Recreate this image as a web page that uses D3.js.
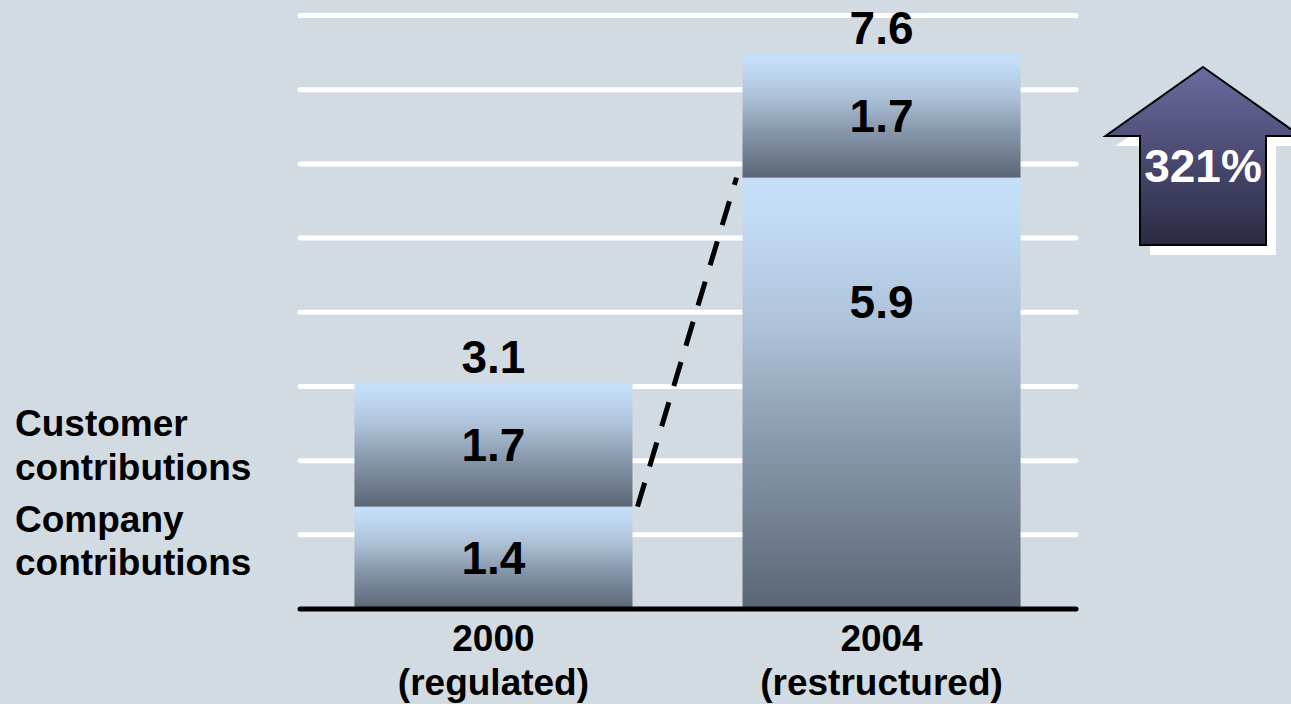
<!DOCTYPE html>
<html>
<head>
<meta charset="utf-8">
<script src="https://cdn.jsdelivr.net/npm/d3@7"></script>
<style>
  html, body { margin: 0; padding: 0; background: #d3dbe2; overflow: hidden; }
  svg { display: block; }
  text { font-family: 'Liberation Sans', Arial, Helvetica, sans-serif; font-weight: bold; }
</style>
</head>
<body>
<svg id="chart" width="1291" height="704"></svg>
<script>
// ---- data ----
const categories = ["2000", "2004"];
const categorySubLabels = ["(regulated)", "(restructured)"];
const companyValues = [1.4, 5.9];
const customerValues = [1.7, 1.7];
const totalValues = [3.1, 7.6];
const gridValues = [1, 2, 3, 4, 5, 6, 7, 8];
const seriesKeys = ["company", "customer"];
const legendLabels = [["Customer", "contributions"], ["Company", "contributions"]];

// ---- setup ----
const W = 1291, H = 704;
const svg = d3.select("#chart");
svg.append("rect").attr("width", W).attr("height", H).attr("fill", "#d3dbe2");

const rows = categories.map((c, i) => ({
  category: c, sub: categorySubLabels[i],
  company: companyValues[i], customer: customerValues[i], total: totalValues[i]
}));
const stacked = d3.stack().keys(seriesKeys)(rows);

const x = d3.scaleBand().domain(categories).range([297, 1078])
  .paddingInner(0.2835).paddingOuter(0.148);
const y = d3.scaleLinear().domain([0, 7.6]).range([609, 53.3]);
const yGrid = d3.scaleLinear().domain([0, 8]).range([609, 15.5]);

const defs = svg.append("defs");
const bg = defs.append("linearGradient").attr("id", "barGrad")
  .attr("x1", 0).attr("y1", 0).attr("x2", 0).attr("y2", 1);
[[0, "#c6e0fa"], [0.08, "#c3dcf6"], [0.35, "#adc1d8"], [0.62, "#8898ac"], [1, "#5a6675"]]
  .forEach(([o, c]) => bg.append("stop").attr("offset", o).attr("stop-color", c));
const ag = defs.append("linearGradient").attr("id", "arrowGrad")
  .attr("x1", 0).attr("y1", 0).attr("x2", 0).attr("y2", 1);
[[0, "#6b6ba0"], [1, "#2a2a44"]]
  .forEach(([o, c]) => ag.append("stop").attr("offset", o).attr("stop-color", c));

// ---- gridlines ----
svg.append("g").selectAll("line").data(gridValues).join("line")
  .attr("x1", 300).attr("x2", 1076)
  .attr("y1", d => yGrid(d)).attr("y2", d => yGrid(d))
  .attr("stroke", "#ffffff").attr("stroke-width", 5).attr("stroke-linecap", "round");

// ---- bars ----
const segs = [];
stacked.forEach(s => s.forEach(d => segs.push({ key: s.key, y0: d[0], y1: d[1], data: d.data })));
svg.append("g").selectAll("rect").data(segs).join("rect")
  .attr("x", d => x(d.data.category))
  .attr("width", x.bandwidth())
  .attr("y", d => y(d.y1))
  .attr("height", d => y(d.y0) - y(d.y1))
  .attr("fill", "url(#barGrad)");

// ---- baseline ----
svg.append("line").attr("x1", 300).attr("x2", 1076)
  .attr("y1", y(0)).attr("y2", y(0))
  .attr("stroke", "#000").attr("stroke-width", 5).attr("stroke-linecap", "round");

// ---- segment value labels ----
const valFont = 46;
svg.append("g").selectAll("text").data(segs).join("text")
  .attr("x", d => x(d.data.category) + x.bandwidth() / 2)
  .attr("y", d => {
    const top = y(d.y1), mid = (y(d.y0) + y(d.y1)) / 2;
    return Math.min(mid, top + 124) + valFont * 0.36;
  })
  .attr("text-anchor", "middle").attr("font-size", valFont).attr("fill", "#000")
  .text(d => d3.format(".1f")(d.data[d.key]));

// ---- totals ----
svg.append("g").selectAll("text").data(rows).join("text")
  .attr("x", d => x(d.category) + x.bandwidth() / 2)
  .attr("y", d => y(d.total) - 9)
  .attr("text-anchor", "middle").attr("font-size", valFont).attr("fill", "#000")
  .text(d => d3.format(".1f")(d.total));

// ---- category labels ----
const cat = svg.append("g").selectAll("text").data(rows).join("text")
  .attr("text-anchor", "middle").attr("font-size", 37).attr("fill", "#000");
cat.append("tspan").attr("x", d => x(d.category) + x.bandwidth() / 2).attr("y", y(0) + 42).text(d => d.category);
cat.append("tspan").attr("x", d => x(d.category) + x.bandwidth() / 2).attr("y", y(0) + 86).text(d => d.sub);

// ---- legend labels (left) ----
const leg = svg.append("g").selectAll("text").data(legendLabels).join("text")
  .attr("font-size", 37).attr("fill", "#000");
leg.append("tspan").attr("x", 15).attr("y", (d, i) => 436 + i * 96).text(d => d[0]);
leg.append("tspan").attr("x", 15).attr("y", (d, i) => 480 + i * 95).text(d => d[1]);

// ---- dashed connector (company segments) ----
const b0 = categories[0], b1 = categories[1];
svg.append("line")
  .attr("x1", x(b0) + x.bandwidth() + 5).attr("y1", y(companyValues[0]))
  .attr("x2", x(b1) - 6).attr("y2", y(companyValues[1]))
  .attr("stroke", "#000").attr("stroke-width", 5)
  .attr("stroke-dasharray", "25,17");

// ---- growth arrow ----
const growth = Math.round((companyValues[1] / companyValues[0] - 1) * 100);
const arrowPath = "M0,0 L97.5,69 L63,69 L63,178 L-63,178 L-63,69 L-97.5,69 Z";
const arrow = svg.append("g").attr("transform", "translate(1203,67)");
arrow.append("path").attr("d", arrowPath).attr("transform", "translate(10,10)").attr("fill", "#ffffff");
arrow.append("path").attr("d", arrowPath).attr("fill", "url(#arrowGrad)")
  .attr("stroke", "#000").attr("stroke-width", 2).attr("stroke-linejoin", "miter");
arrow.append("text").attr("x", 0).attr("y", 114.7).attr("text-anchor", "middle")
  .attr("font-size", 46).attr("fill", "#ffffff").text(growth + "%");
</script>
</body>
</html>
